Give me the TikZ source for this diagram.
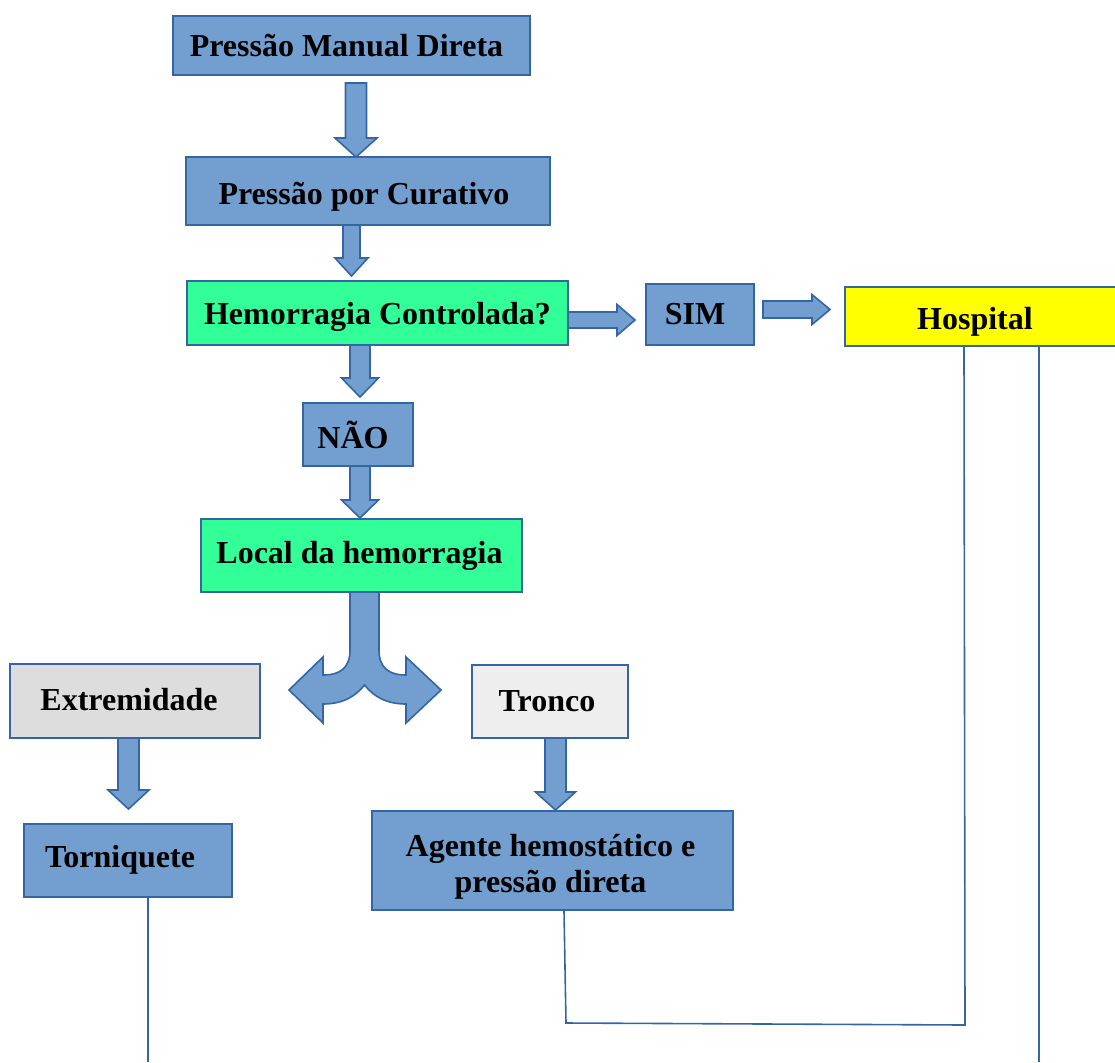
\documentclass[tikz,border=0pt]{standalone}
\usepackage{fontspec}
\setmainfont{Liberation Serif}
\definecolor{boxblue}{HTML}{729FCF}
\definecolor{lineblue}{HTML}{3465A4}
\definecolor{boxgreen}{HTML}{33FF99}
\definecolor{boxyellow}{HTML}{FFFF00}
\definecolor{boxgrey}{HTML}{DDDDDD}
\definecolor{boxlight}{HTML}{EEEEEE}
% move a label inside its box without changing the box
\newcommand{\nudge}[3]{\raisebox{#2}[\height][\depth]{\hspace*{#1}#3\hspace*{-#1}}}
\begin{document}
\begin{tikzpicture}[x=0.5pt,y=-0.5pt]
\tikzstyle{every node}=[font=\fontsize{16}{18}\selectfont\bfseries]
\tikzstyle{stepbox}=[draw=lineblue,line width=1pt,fill=boxblue,inner sep=0pt,align=center]
\tikzstyle{blkarrow}=[draw=lineblue,line width=0.8pt,fill=boxblue,line join=miter]
\tikzstyle{link}=[draw=lineblue,line width=0.8pt]
\useasboundingbox (0,0) rectangle (1115,1062);
\clip (0,0) rectangle (1115,1062);

%%% boxes
\node[stepbox,minimum width=178.5pt,minimum height=29.5pt] (pmd) at (351.5,45.5) {\nudge{-2.5pt}{0pt}{Pressão Manual Direta}};
\node[stepbox,minimum width=182pt,minimum height=34pt] (pcur) at (368,191) {\nudge{-2pt}{-3pt}{Pressão por Curativo}};
\node[stepbox,fill=boxgreen,minimum width=190.5pt,minimum height=32pt] (hemo) at (377.5,313) {\nudge{0pt}{-2pt}{Hemorragia Controlada?}};
\node[stepbox,minimum width=54pt,minimum height=30.5pt] (sim) at (700,314.5) {\nudge{-2.5pt}{0pt}{SIM}};
\node[stepbox,fill=boxyellow,minimum width=140pt,minimum height=29.5pt] (hosp) at (985,316) {\nudge{-5pt}{-3pt}{Hospital}};
\node[stepbox,minimum width=55pt,minimum height=31.5pt] (nao) at (358,434.5) {\nudge{-2.5pt}{0pt}{NÃO}};
\node[stepbox,fill=boxgreen,minimum width=160.5pt,minimum height=36.5pt] (local) at (361.5,555.5) {\nudge{-1pt}{0pt}{Local da hemorragia}};
\node[stepbox,fill=boxgrey,minimum width=125pt,minimum height=37pt] (extr) at (135,701) {\nudge{-3pt}{0.5pt}{Extremidade}};
\node[stepbox,fill=boxlight,minimum width=78pt,minimum height=36.5pt] (tronco) at (550,701.5) {\nudge{-1.5pt}{0pt}{Tronco}};
\node[stepbox,minimum width=104pt,minimum height=36.5pt] (torn) at (128,860.5) {\nudge{-4pt}{0.5pt}{Torniquete}};
\node[stepbox,minimum width=180.5pt,minimum height=49.5pt] (agente) at (552.5,860.5)
  {\nudge{-1pt}{-3.5pt}{\begin{tabular}{@{}c@{}}Agente hemostático e\\pressão direta\end{tabular}}};

%%% block arrows down: centre/top/bottom/shaft/head/head length
\foreach \c/\t/\b/\s/\h/\l in {356/83/157/10.5/21/19, 351.5/225/276/8.5/16.5/18, 360/345/397/10/18.5/19,
   360/466/518/10/18.5/18, 128.5/738/809/10.5/20.5/19, 555.5/738/810/10.5/20/18}
  {\draw[blkarrow] (\c-\s,\t)--(\c+\s,\t)--(\c+\s,\b-\l)--(\c+\h,\b-\l)--(\c,\b)--(\c-\h,\b-\l)--(\c-\s,\b-\l)--cycle;}
%%% block arrows right: left/right/centre/shaft/head/head length
\foreach \a/\e/\c/\s/\h/\l in {568/635/320/8/15.5/18, 763/830/309.5/8.5/15/18}
  {\draw[blkarrow] (\a,\c-\s)--(\e-\l,\c-\s)--(\e-\l,\c-\h)--(\e,\c)--(\e-\l,\c+\h)--(\e-\l,\c+\s)--(\a,\c+\s)--cycle;}

%%% split arrow below Local da hemorragia
\draw[blkarrow] (350,592)--(350,650) .. controls (350,668) and (340,675) .. (323,675)--(323,657)--(289,690)--(323,723)--(323,704)
  .. controls (342,704) and (355,697) .. (364.5,685) .. controls (374,697) and (387,704) .. (406,704)--(406,723)--(441,690)--(406,657)--(406,675)
  .. controls (389,675) and (379,668) .. (379,650)--(379,592)--cycle;

%%% lines
\coordinate (tornend) at (148,1062);
\coordinate (agtop) at (564,0);
\coordinate (agbot) at (566,1023);
\coordinate (hosbot) at (965,1025);
\coordinate (hosup) at (964,0);
\coordinate (hosend) at (1039,1062);
\draw[link] (tornend |- torn.south)--(tornend);
\draw[link] (agtop |- agente.south)--(agbot)--(hosbot)--(hosup |- hosp.south);
\draw[link] (hosend |- hosp.south)--(hosend);
\end{tikzpicture}
\end{document}
